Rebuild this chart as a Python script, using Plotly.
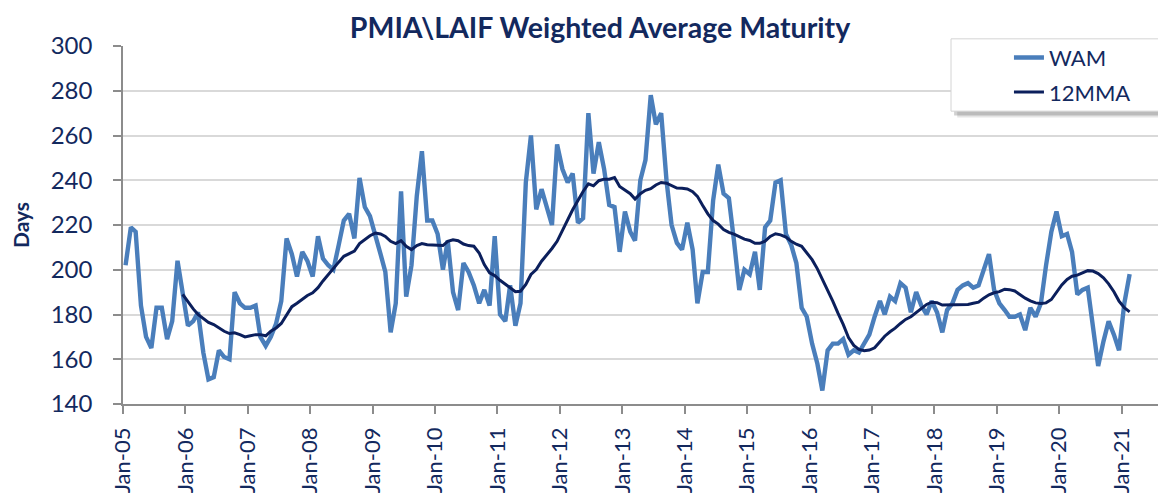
import pandas as pd
import plotly.graph_objects as go

# ---------------- data ----------------
start_month = "2005-01-01"

wam = [
    202, 219, 217, 184, 170, 165, 183, 183, 169, 177, 204, 190,   # 2005
    175, 177, 181, 163, 151, 152, 164, 161, 160, 190, 185, 183,   # 2006
    183, 184, 170, 166, 170, 176, 186, 214, 207, 197, 208, 204,   # 2007
    197, 215, 205, 202, 200, 211, 222, 225, 214, 241, 228, 224,   # 2008
    216, 207, 199, 172, 185, 235, 188, 202, 233, 253, 222, 222,   # 2009
    216, 200, 213, 190, 182, 203, 199, 193, 185, 191, 184, 215,   # 2010
    180, 177, 193, 175, 185, 239, 260, 227, 236, 228, 220, 256,   # 2011
    245, 239, 243, 221, 223, 270, 243, 257, 245, 229, 228, 208,   # 2012
    226, 217, 213, 240, 249, 278, 265, 270, 240, 220, 212, 209,   # 2013
    221, 209, 185, 199, 199, 231, 247, 234, 232, 213, 191, 200,   # 2014
    198, 208, 191, 219, 222, 239, 240, 216, 211, 203, 183, 179,   # 2015
    167, 158, 146, 164, 167, 167, 169, 162, 164, 163, 167, 171,   # 2016
    179, 186, 180, 188, 186, 194, 192, 181, 190, 184, 180, 186,   # 2017
    181, 172, 182, 185, 191, 193, 194, 192, 193, 200, 207, 191,   # 2018
    185, 182, 179, 179, 180, 173, 183, 179, 185, 202, 217, 226,   # 2019
    215, 216, 208, 189, 191, 192, 175, 157, 168, 177, 171, 164,   # 2020
    185, 198,                                                     # 2021
]

mma = [
    189.0,                                                              # Dec-05
    185.5, 182.5, 180.0, 178.0, 176.5, 175.5, 174.0, 172.5, 171.5, 171.8, 171.0, 170.0,
    170.5, 171.0, 171.0, 170.5, 172.5, 174.0, 176.0, 179.5, 183.5, 185.0, 186.8, 188.5,
    189.7, 192.0, 195.0, 198.0, 200.4, 203.4, 206.0, 207.1, 208.3, 211.7, 213.4, 215.2,
    216.4, 216.0, 214.9, 212.7, 211.7, 213.0, 210.5, 209.0, 210.8, 211.7, 211.2, 211.0,
    210.9, 210.8, 212.7, 213.4, 213.0, 211.5, 210.8, 210.5, 207.5, 202.3, 198.6, 197.4,
    195.3, 193.4, 191.7, 190.2, 190.4, 193.4, 197.9, 200.1, 203.8, 206.4, 209.5, 212.7,
    217.6, 222.4, 226.8, 231.0, 235.0, 238.4, 237.5, 239.8, 240.5, 240.5, 241.2, 237.2,
    235.7, 234.0, 231.6, 234.0, 235.5, 236.2, 237.9, 239.0, 238.7, 237.5, 236.5, 236.4,
    236.1, 234.9, 232.8, 228.7, 225.0, 222.0, 220.4, 218.0, 216.7, 215.9, 214.7, 213.7,
    213.1, 211.8, 211.8, 212.8, 214.9, 216.1, 215.6, 214.6, 212.7, 211.4, 210.5, 207.8,
    204.5, 200.4, 196.0, 191.2, 186.0, 180.5, 175.6, 169.7, 166.2, 164.4, 163.8, 164.1,
    165.1, 167.8, 170.3, 172.3, 173.9, 176.0, 177.8, 179.0, 180.8, 182.6, 184.5, 185.5,
    185.3, 184.2, 184.2, 184.4, 184.4, 184.4, 184.5, 185.0, 185.5, 187.3, 188.8, 189.7,
    190.2, 191.3, 191.1, 190.5, 188.9, 187.3, 186.1, 185.2, 184.9, 185.2, 186.7, 189.7,
    193.2, 195.7, 197.1, 197.6, 198.6, 199.6, 199.4, 198.3, 196.4, 193.7, 190.2, 186.0,
    183.0, 181.2,
]

tick_years = list(range(2005, 2022))
tick_vals = [f"{y}-01-01" for y in tick_years]
tick_text = [f"Jan-{y % 100:02d}" for y in tick_years]
y_ticks = [140, 160, 180, 200, 220, 240, 260, 280, 300]

# ---------------- styling ----------------
NAVY_TEXT = "#13295e"
WAM_COLOR = "#4a7ebb"
MMA_COLOR = "#0b1f5c"
GRID = "#d9d9d9"
AXIS = "#8c8c8c"
FONT = "Lato, 'Open Sans', sans-serif"

# monthly observations, plotted in the middle of each month
months = pd.date_range(start_month, periods=len(wam), freq="MS") + pd.Timedelta(days=15)
mma_months = months[len(wam) - len(mma):]

fig = go.Figure()
fig.add_trace(go.Scatter(
    x=months, y=wam, name="WAM", mode="lines", legendgroup="a",
    line=dict(color=WAM_COLOR, width=4.4),
))
fig.add_trace(go.Scatter(
    x=mma_months, y=mma, name="12MMA", mode="lines", legendgroup="b",
    line=dict(color=MMA_COLOR, width=3),
))

# legend frame with soft shadow (paper coordinates)
fig.add_shape(type="rect", xref="paper", yref="paper",
              x0=0.806, x1=1.01, y0=0.800, y1=1.005,
              fillcolor="rgba(0,0,0,0.10)", line=dict(width=0), layer="above")
fig.add_shape(type="rect", xref="paper", yref="paper",
              x0=0.803, x1=1.007, y0=0.806, y1=1.010,
              fillcolor="rgba(0,0,0,0.18)", line=dict(width=0), layer="above")
fig.add_shape(type="rect", xref="paper", yref="paper",
              x0=0.800, x1=1.0035, y0=0.818, y1=1.020,
              fillcolor="white", line=dict(color="#d4d4d4", width=1), layer="above")

# page body adds an 8px margin, so the figure is 1150x486 placed at (8, 8)
fig.update_layout(
    width=1150, height=486,
    margin=dict(l=115, r=0, t=38, b=90, autoexpand=False),
    paper_bgcolor="white", plot_bgcolor="white",
    font=dict(family=FONT, color=NAVY_TEXT, size=22),
    title=dict(
        text="<b>PMIA\\LAIF Weighted Average Maturity</b>",
        x=592 / 1150, xanchor="center", xref="container",
        y=0.979, yanchor="top", yref="container",
        pad=dict(t=0, b=0),
        font=dict(family=FONT, size=28.5, color=NAVY_TEXT),
    ),
    showlegend=True,
    legend=dict(
        x=0.856, y=1.026, xanchor="left", yanchor="top",
        bgcolor="rgba(0,0,0,0)", borderwidth=0,
        font=dict(family=FONT, size=22, color=NAVY_TEXT),
        traceorder="grouped", tracegroupgap=3,
    ),
    xaxis=dict(
        type="date",
        range=["2005-01-01", "2021-08-01"],
        tickmode="array", tickvals=tick_vals, ticktext=tick_text,
        tickangle=-90,
        ticks="outside", ticklen=8, tickwidth=1.5, tickcolor=AXIS,
        showline=True, linecolor=AXIS, linewidth=1.5,
        showgrid=False, zeroline=False, automargin=False,
        tickfont=dict(family=FONT, size=22, color=NAVY_TEXT),
        ticklabelstandoff=5,
    ),
    yaxis=dict(
        range=[140, 300],
        tickmode="array", tickvals=y_ticks,
        ticks="outside", ticklen=8, tickwidth=1.5, tickcolor=AXIS,
        showline=True, linecolor=AXIS, linewidth=1.5,
        showgrid=True, gridcolor=GRID, gridwidth=1.5,
        zeroline=False, automargin=False,
        tickfont=dict(family=FONT, size=24, color=NAVY_TEXT),
        ticklabelstandoff=16,
        title=dict(text="<b>Days</b>", standoff=29,
                   font=dict(family=FONT, size=21, color=NAVY_TEXT)),
    ),
)

fig.write_html("out.html")
